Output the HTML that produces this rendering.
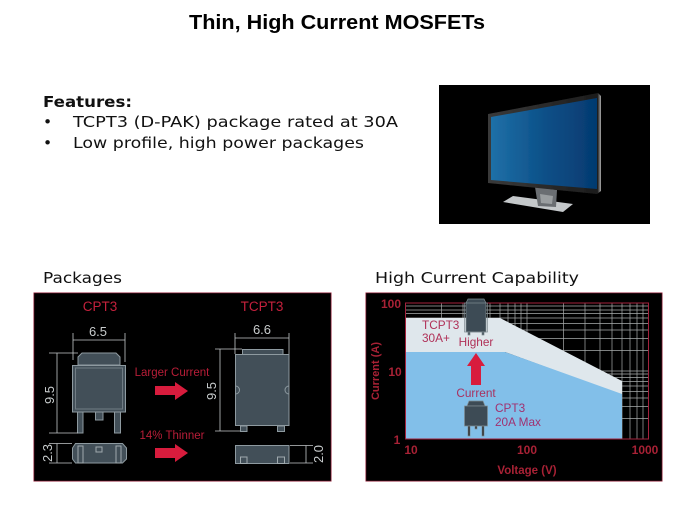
<!DOCTYPE html>
<html><head><meta charset="utf-8"><style>
html,body{margin:0;padding:0;background:#fff;width:675px;height:506px;overflow:hidden}
svg{display:block}
.v{font-family:"DejaVu Sans",sans-serif;fill:#111}
.a{font-family:"Liberation Sans",sans-serif}
</style></head><body>
<svg width="675" height="506" viewBox="0 0 675 506" xmlns="http://www.w3.org/2000/svg">
<defs>
<linearGradient id="scr" x1="0" x2="1" y1="0" y2="0"><stop offset="0" stop-color="#1f70a8"/><stop offset="0.5" stop-color="#0c5088"/><stop offset="1" stop-color="#053a70"/></linearGradient>
<linearGradient id="bez" x1="0" x2="1" y1="0" y2="0"><stop offset="0" stop-color="#3a3a3a"/><stop offset="0.97" stop-color="#1c1c1c"/><stop offset="1" stop-color="#aaa"/></linearGradient>
<filter id="s" x="0" y="0" width="1" height="1"><feGaussianBlur stdDeviation="0.35"/></filter>
</defs>
<text class="a" x="337" y="29" font-size="20" font-weight="bold" text-anchor="middle" textLength="296" lengthAdjust="spacingAndGlyphs" fill="#000">Thin, High Current MOSFETs</text>
<text class="v" x="43" y="107" font-size="15.500" font-weight="bold" textLength="89" lengthAdjust="spacingAndGlyphs">Features:</text>
<text class="v" x="43" y="127" font-size="15.500">•</text>
<text class="v" x="73" y="127" font-size="15.500" textLength="325" lengthAdjust="spacingAndGlyphs">TCPT3 (D-PAK) package rated at 30A</text>
<text class="v" x="43" y="148" font-size="15.500">•</text>
<text class="v" x="73" y="148" font-size="15.500" textLength="291" lengthAdjust="spacingAndGlyphs">Low profile, high power packages</text>
<text class="v" x="43" y="283" font-size="15.500" textLength="79" lengthAdjust="spacingAndGlyphs">Packages</text>
<text class="v" x="375" y="283" font-size="15.500" textLength="204" lengthAdjust="spacingAndGlyphs">High Current Capability</text>

<!-- monitor -->
<g filter="url(#s)">
<rect x="439" y="85" width="211" height="139" fill="#000"/>
<polygon points="503,202 513,196 573,204 563,212" fill="#c4c8ca"/>
<polygon points="535,187 557,190 556,207 538,206" fill="#6a6e72"/>
<polygon points="540,194 553,196 552,204 541,203" fill="#9a9ea0"/>
<polygon points="488,114 598,93 601,96 601,191 597,194 488,183" fill="url(#bez)"/>
<polygon points="491,117 597,98 597,189 491,180" fill="url(#scr)"/>
</g>

<!-- packages panel -->
<g filter="url(#s)">
<rect x="33.500" y="292.500" width="298" height="189" fill="#000" stroke="#8f1f34" stroke-width="1.500"/>
<g class="a" font-size="13.500" fill="#c4203c" text-anchor="middle">
<text x="100" y="311">CPT3</text><text x="262" y="311">TCPT3</text></g>
<g fill="#425058" stroke="#8e9aa0" stroke-width="1">
<path d="M78 365V357l4-4h34l4 4v8z"/>
<rect x="77.500" y="412" width="5.500" height="21"/><rect x="114.500" y="412" width="6" height="21"/><rect x="95.500" y="412" width="7.500" height="8"/>
<rect x="72.500" y="365.500" width="53" height="46.500"/>
<rect x="75.500" y="368" width="47" height="41" fill="none" stroke="#6f7c84"/>
<path d="M72.500 448l3-4.500h47l4 4.500v11l-4 4h-47l-3-4z"/>
<rect x="78" y="446" width="5" height="17" fill="none" stroke="#a0aaae"/><rect x="116" y="446" width="5" height="17" fill="none" stroke="#a0aaae"/><rect x="96" y="447" width="6" height="5" fill="none" stroke="#a0aaae"/>
<rect x="242.500" y="349.500" width="40.500" height="5"/>
<rect x="240.500" y="426" width="6.500" height="5.500"/><rect x="277.500" y="426" width="7" height="5.500"/>
<rect x="235.500" y="354.500" width="53.500" height="71"/>
<rect x="235.500" y="445.500" width="53.500" height="18"/>
<rect x="240.500" y="457" width="6.500" height="6.500" fill="none" stroke="#a0aaae"/><rect x="277.500" y="457" width="7" height="6.500" fill="none" stroke="#a0aaae"/>
</g>
<g fill="none" stroke="#8e9aa0"><path d="M235.500 386a4 4 0 0 1 0 8M289 386a4 4 0 0 0 0 8"/></g>
<g stroke="#c4c8ca" stroke-width="0.8" fill="none">
<path d="M73 333V360M125 333V362M73 340H125M49 353H78M57 353V433M49 433H78M49 443.500H72M49 463H72M57 443.500V463"/>
<path d="M235 333V354M289 333V354M235 338H289M215 349H242M220 349V431M215 431H240M290 445.500H313M290 463H313M306 445.500V463"/>
</g>
<g class="a" font-size="13" fill="#c8cccd" text-anchor="middle">
<text x="98" y="336">6.5</text><text x="262" y="334">6.6</text>
<text transform="translate(54,395) rotate(-90)">9.5</text>
<text transform="translate(52,453) rotate(-90)">2.3</text>
<text transform="translate(216,391) rotate(-90)">9.5</text>
<text transform="translate(323,454) rotate(-90)">2.0</text>
</g>
<g class="a" font-size="11.500" fill="#b81f38" text-anchor="middle">
<text x="172" y="376">Larger Current</text><text x="172" y="439">14% Thinner</text></g>
<g fill="#d81f3c">
<polygon points="155,386 175,386 175,382 188,391 175,400 175,395 155,395"/>
<polygon points="155,448 175,448 175,444 188,453 175,462 175,458 155,458"/>
</g>
</g>

<!-- chart panel -->
<g filter="url(#s)">
<rect x="365.500" y="292.500" width="297" height="189" fill="#000" stroke="#8f1f34" stroke-width="1.500"/>
<g stroke="#a8acac" stroke-width="0.7" fill="none">
<path d="M441.400 303V439M463 303V439M477.900 303V439M490 303V439M500 303V439M508 303V439M515 303V439M521 303V439M527 303V439
M563.400 303V439M585 303V439M600 303V439M612 303V439M622 303V439M630 303V439M637 303V439M643 303V439"/>
<path d="M405 306H648M405 310H648M405 313.500H648M405 318H648M405 323.500H648M405 330H648M405 338.500H648M405 350.500H648M405 371H648
M405 374H648M405 377.500H648M405 381.500H648M405 386H648M405 391.500H648M405 398H648M405 406.500H648M405 418.500H648"/>
</g>
<polygon points="406,318 500,318 622,381 622,395 505,352 406,352" fill="#dfe7ec"/>
<polygon points="406,352 505,352 622,394 622,439 406,439" fill="#82bfe9"/>
<rect x="405.500" y="303" width="243" height="136" fill="none" stroke="#a3243c" stroke-width="1"/>
<g class="a" font-weight="bold" fill="#a82035" font-size="12">
<text x="391" y="308" text-anchor="middle">100</text>
<text x="395" y="376" text-anchor="middle">10</text>
<text x="397" y="444" text-anchor="middle">1</text>
<text x="411" y="454" text-anchor="middle">10</text>
<text x="527" y="454" text-anchor="middle">100</text>
<text x="645" y="454" text-anchor="middle">1000</text>
<text x="527" y="474" text-anchor="middle" font-size="11.500">Voltage (V)</text>
<text transform="translate(379,371) rotate(-90)" text-anchor="middle" font-size="11">Current (A)</text>
</g>
<g fill="#3e4c55" stroke="#7f8c92" stroke-width="0.7">
<path d="M466 303l2-4h16l2 4v29h-20z"/>
<rect x="464.500" y="303" width="23" height="29" fill="none"/>
<rect x="468" y="332" width="2" height="3"/><rect x="482" y="332" width="2" height="3"/>
<path d="M467 406l2-5h14l2 5z"/>
<rect x="464.500" y="406" width="23" height="20"/>
<rect x="468" y="426" width="2" height="10" fill="#222"/><rect x="482" y="426" width="2" height="10" fill="#222"/>
<rect x="475" y="426" width="2" height="3" fill="#222"/>
</g>
<polygon points="476,353 485,366 481,366 481,385 471,385 471,366 467,366" fill="#d81f3c"/>
<g class="a" font-size="11.800">
<text x="422" y="329" fill="#b03058">TCPT3</text><text x="422" y="342" fill="#b03058">30A+</text>
<text x="476" y="346" fill="#b03058" text-anchor="middle">Higher</text>
<text x="476" y="397" fill="#a83060" text-anchor="middle">Current</text>
<text x="495" y="412" fill="#a03070">CPT3</text><text x="495" y="426" fill="#a03070">20A Max</text>
</g>
</g>
</svg>
</body></html>
